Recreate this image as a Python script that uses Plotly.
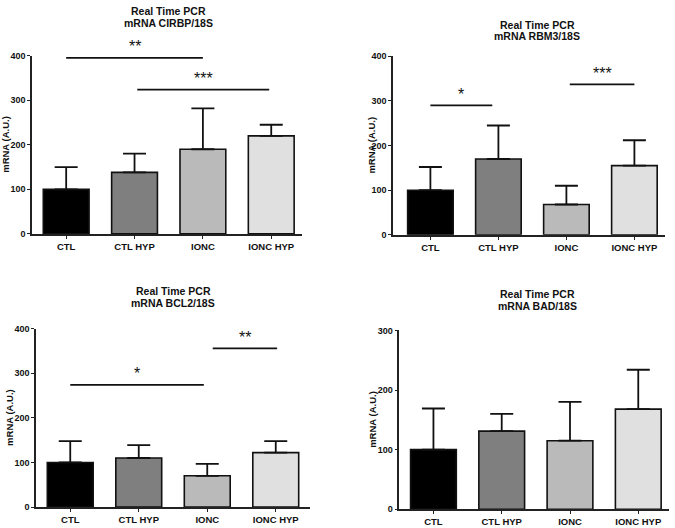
import plotly.graph_objects as go

groups = ["CTL", "CTL HYP", "IONC", "IONC HYP"]
colors = ["#000000", "#7f7f7f", "#bababa", "#e0e0e0"]

cirbp_mean = [100, 138, 190, 220]
cirbp_sd = [50, 42, 92, 25]
rbm3_mean = [100, 170, 68, 155]
rbm3_sd = [52, 75, 42, 57]
bcl2_mean = [100, 110, 70, 122]
bcl2_sd = [48, 29, 27, 26]
bad_mean = [100, 131, 115, 168]
bad_sd = [69, 29, 65, 66]

titles = ["mRNA CIRBP/18S", "mRNA RBM3/18S", "mRNA BCL2/18S", "mRNA BAD/18S"]
y_ticks = [[0, 100, 200, 300, 400], [0, 100, 200, 300, 400],
           [0, 100, 200, 300, 400], [0, 100, 200, 300]]

# significance brackets: (from group, to group, height, label)
sig_cirbp = [(0, 2, 395, "**"), (1.04, 2.97, 324, "***")]
sig_rbm3 = [(0, 0.91, 290, "*"), (2.05, 3.0, 337, "***")]
sig_bcl2 = [(0, 1.95, 274, "*"), (2.08, 3.02, 356, "**")]
sig_bad = []

W, H = 675, 528
FONT = "Arial, Liberation Sans, sans-serif"

panels = [
    dict(mean=cirbp_mean, sd=cirbp_sd, sig=sig_cirbp, title=titles[0], ticks=y_ticks[0],
         xpx=(32, 302), ypx=(233.3, 51.7), xr=[-0.5, 3.45], yr=[0, 400],
         tpos=(168, 6, 18), ylab=6),
    dict(mean=rbm3_mean, sd=rbm3_sd, sig=sig_rbm3, title=titles[1], ticks=y_ticks[1],
         xpx=(393, 665), ypx=(234.3, 52.3), xr=[-0.55, 3.45], yr=[0, 400],
         tpos=(537, 20, 32), ylab=372),
    dict(mean=bcl2_mean, sd=bcl2_sd, sig=sig_bcl2, title=titles[2], ticks=y_ticks[2],
         xpx=(36, 310), ypx=(511.7, 330), xr=[-0.5, 3.5], yr=[0, 400],
         tpos=(173, 291.7, 303.3), ylab=10),
    dict(mean=bad_mean, sd=bad_sd, sig=sig_bad, title=titles[3], ticks=y_ticks[3],
         xpx=(399.3, 669), ypx=(514, 331.7), xr=[-0.5, 3.45], yr=[0, 300],
         tpos=(537, 295, 306.7), ylab=373),
]

fig = go.Figure()
layout = dict(width=W, height=H, margin=dict(l=0, r=0, t=0, b=0),
              paper_bgcolor="white", plot_bgcolor="white", showlegend=False)
annotations = []
shapes = []

for i, p in enumerate(panels):
    k = "" if i == 0 else str(i + 1)
    xa, ya = "x" + k, "y" + k
    fig.add_trace(go.Bar(
        x=list(range(len(groups))), y=p["mean"], width=0.67,
        marker=dict(color=colors, line=dict(color="#111111", width=1.6)),
        error_y=dict(type="data", symmetric=False, array=p["sd"],
                     arrayminus=[0] * len(groups), color="#111111",
                     thickness=1.8, width=11.5),
        xaxis=xa, yaxis=ya, hoverinfo="skip"))
    layout["xaxis" + k] = dict(
        domain=[p["xpx"][0] / W, p["xpx"][1] / W], range=p["xr"], anchor=ya,
        tickmode="array", tickvals=list(range(len(groups))), ticktext=groups,
        showline=True, linecolor="#222222", linewidth=1.5, ticks="outside",
        ticklen=3, tickwidth=1.2, tickcolor="#222222", showgrid=False,
        zeroline=False, fixedrange=True,
        tickfont=dict(family=FONT, size=9.5, color="#111111", weight="bold"))
    layout["yaxis" + k] = dict(
        domain=[1 - p["ypx"][0] / H, 1 - p["ypx"][1] / H], range=p["yr"], anchor=xa,
        tickmode="array", tickvals=p["ticks"],
        showline=True, linecolor="#222222", linewidth=1.5, ticks="outside",
        ticklen=3, tickwidth=1.2, tickcolor="#222222", showgrid=False,
        zeroline=False, fixedrange=True,
        tickfont=dict(family=FONT, size=9, color="#111111", weight="bold"))
    # titles
    cx, y1, y2 = p["tpos"]
    annotations.append(dict(text="Real Time PCR", x=cx / W, y=1 - y1 / H, xref="paper",
                            yref="paper", showarrow=False, xanchor="center", yanchor="middle",
                            font=dict(family=FONT, size=10.5, color="#111111", weight="bold")))
    annotations.append(dict(text=p["title"], x=cx / W, y=1 - y2 / H, xref="paper",
                            yref="paper", showarrow=False, xanchor="center", yanchor="middle",
                            font=dict(family=FONT, size=10.5, color="#111111", weight="bold")))
    # y axis label
    ymid = (p["ypx"][0] + p["ypx"][1]) / 2
    annotations.append(dict(text="mRNA (A.U.)", x=p["ylab"] / W, y=1 - ymid / H,
                            xref="paper", yref="paper", showarrow=False, textangle=-90,
                            xanchor="center", yanchor="middle",
                            font=dict(family=FONT, size=9.5, color="#111111", weight="bold")))
    # significance
    for (g0, g1, h, lab) in p["sig"]:
        shapes.append(dict(type="line", xref=xa, yref=ya, x0=g0, x1=g1, y0=h, y1=h,
                           line=dict(color="#111111", width=1.8)))
        annotations.append(dict(text=lab, x=(g0 + g1) / 2, y=h, xref=xa, yref=ya,
                                showarrow=False, xanchor="center", yanchor="middle",
                                yshift=11,
                                font=dict(family=FONT, size=16, color="#111111")))

layout["annotations"] = annotations
layout["shapes"] = shapes
fig.update_layout(**layout)
fig.write_html("out.html", config={"displayModeBar": False},
               post_script="document.body.style.margin='0';document.body.style.padding='0';")
